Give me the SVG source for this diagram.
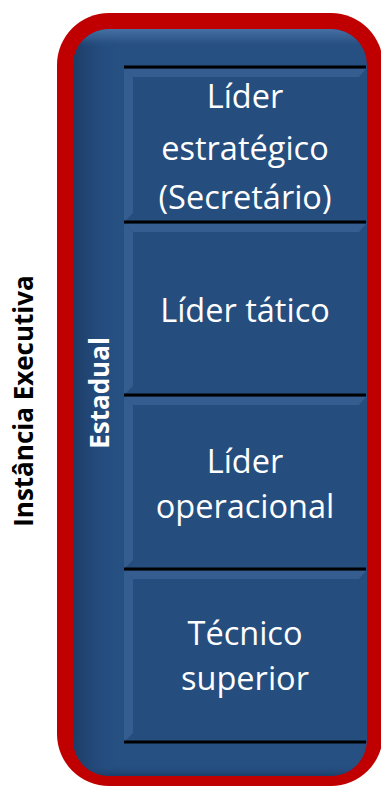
<svg xmlns="http://www.w3.org/2000/svg" width="381" height="787" viewBox="0 0 381 787">
  <defs>
    <style>
      .lbl { font-family: "Open Sans", "Noto Sans", sans-serif; font-size: 32.5px; fill: #ffffff; text-anchor: middle; }
      .vert { font-family: "Open Sans", "Noto Sans", sans-serif; font-size: 26px; font-weight: bold; text-anchor: middle; }
      .sep { stroke: #000000; stroke-width: 3; }
      .panel { fill: #254D7E; }
      .bevel { fill: #355D90; }
    </style>
    <linearGradient id="leftShade" x1="0" y1="0" x2="1" y2="0">
      <stop offset="0" stop-color="#1B3A62" stop-opacity="0.9"/>
      <stop offset="0.06" stop-color="#1F4270" stop-opacity="0.6"/>
      <stop offset="0.15" stop-color="#254D7E" stop-opacity="0"/>
      <stop offset="1" stop-color="#254D7E" stop-opacity="0"/>
    </linearGradient>
    <linearGradient id="topShade" x1="0" y1="0" x2="0" y2="1">
      <stop offset="0" stop-color="#4A74A8" stop-opacity="0.9"/>
      <stop offset="0.012" stop-color="#3E6699" stop-opacity="0.6"/>
      <stop offset="0.025" stop-color="#254D7E" stop-opacity="0"/>
      <stop offset="0.985" stop-color="#254D7E" stop-opacity="0"/>
      <stop offset="1" stop-color="#1A3860" stop-opacity="0.8"/>
    </linearGradient>
  </defs>

  <g id="frame">
    <rect x="57" y="13" width="326" height="773" rx="52" ry="52" fill="#C00000"/>
    <rect x="73" y="29" width="294" height="747" rx="36" ry="36" fill="#264F82"/>
    <rect x="73" y="29" width="294" height="747" rx="36" ry="36" fill="url(#leftShade)"/>
    <rect x="73" y="29" width="294" height="747" rx="36" ry="36" fill="url(#topShade)"/>
  </g>

  <g id="instancia-executiva">
    <text class="vert" transform="translate(33,401) rotate(-90)" fill="#000000">Instância Executiva</text>
  </g>

  <g id="estadual">
    <text class="vert" transform="translate(109,393) rotate(-90)" fill="#ffffff">Estadual</text>
  </g>

  <g id="lider-estrategico">
    <rect class="panel" x="124" y="67" width="242" height="155"/>
    <polygon class="bevel" points="124,69 366,69 359,77 133,77"/>
    <polygon class="bevel" points="124,69 133,77 133,213 124,222"/>
    <text class="lbl" x="245" y="108">Líder</text>
    <text class="lbl" x="245" y="160">estratégico</text>
    <text class="lbl" x="245" y="209">(Secretário)</text>
  </g>

  <g id="lider-tatico">
    <rect class="panel" x="124" y="222" width="242" height="173"/>
    <polygon class="bevel" points="124,224 366,224 359,232 133,232"/>
    <polygon class="bevel" points="124,224 133,232 133,386 124,395"/>
    <text class="lbl" x="245" y="322">Líder tático</text>
  </g>

  <g id="lider-operacional">
    <rect class="panel" x="124" y="395" width="242" height="174"/>
    <polygon class="bevel" points="124,397 366,397 359,405 133,405"/>
    <polygon class="bevel" points="124,397 133,405 133,560 124,569"/>
    <text class="lbl" x="245" y="473">Líder</text>
    <text class="lbl" x="245" y="518">operacional</text>
  </g>

  <g id="tecnico-superior">
    <rect class="panel" x="124" y="569" width="242" height="173"/>
    <polygon class="bevel" points="124,571 366,571 359,579 133,579"/>
    <polygon class="bevel" points="124,571 133,579 133,733 124,742"/>
    <text class="lbl" x="245" y="645">Técnico</text>
    <text class="lbl" x="245" y="690">superior</text>
  </g>

  <g id="connectors">
    <line class="sep" x1="124" y1="67" x2="366" y2="67"/>
    <line class="sep" x1="124" y1="222" x2="366" y2="222"/>
    <line class="sep" x1="124" y1="395" x2="366" y2="395"/>
    <line class="sep" x1="124" y1="569" x2="366" y2="569"/>
    <line class="sep" x1="124" y1="742" x2="366" y2="742"/>
  </g>
</svg>
